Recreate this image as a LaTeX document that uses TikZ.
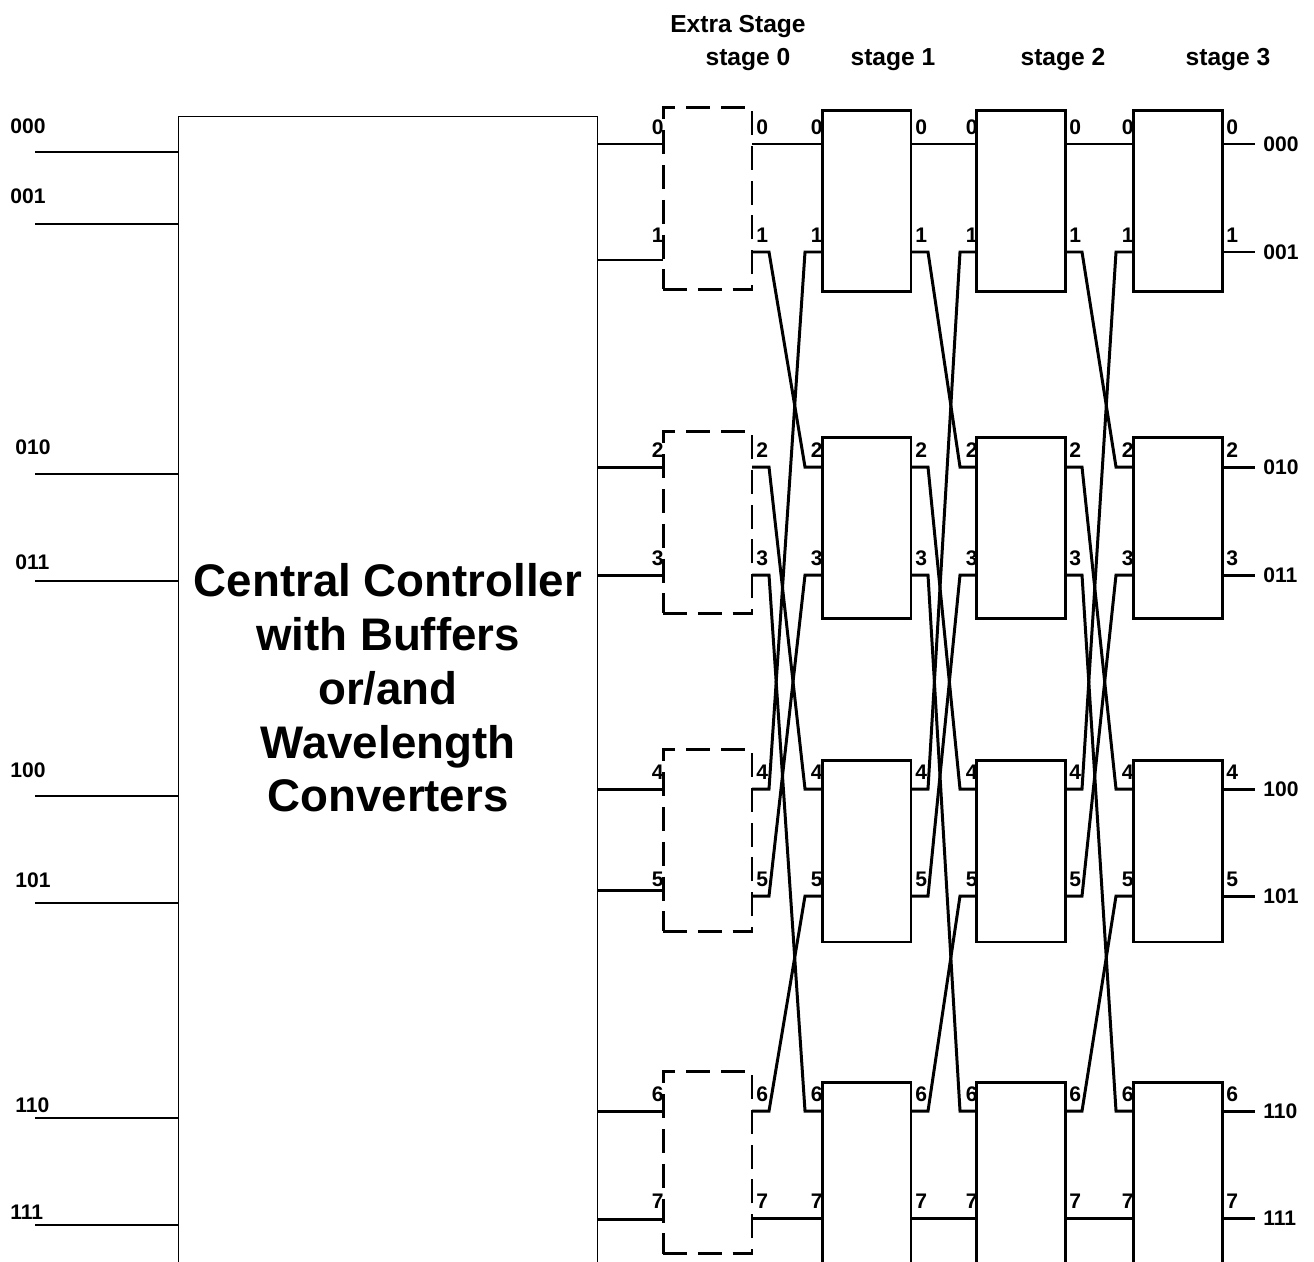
\documentclass[tikz,border=0pt]{standalone}
\usepackage{fontspec}
\setmainfont{Liberation Sans}
\usetikzlibrary{calc, positioning}

\def\portys{{144,252,467,575,789,896,1111,1218}}

\begin{document}
\begin{tikzpicture}[x=0.02cm, y=-0.02cm,
  wire/.style={line width=1.7pt},
  thinwire/.style={line width=0.7pt},
  swbox/.style={draw, line width=1.7pt, minimum width=1.78cm, minimum height=3.64cm, inner sep=0pt},
  xbox/.style={swbox, dash pattern=on 13.6pt off 6.2pt},
  portlbl/.style={font=\bfseries\fontsize{12}{12}\selectfont, inner sep=0pt},
  addr/.style={font=\bfseries\fontsize{12}{12}\selectfont, inner sep=0pt},
  stagelbl/.style={font=\bfseries\fontsize{14}{14}\selectfont, inner sep=0pt}]
  \useasboundingbox (0,0) rectangle (1314,1261);
  \clip (0,0) rectangle (1314,1261);

  % controller
  \node[draw, line width=0.8pt, minimum width=8.38cm, minimum height=23.4cm, anchor=north west, inner sep=0pt] (ctrl) at (178,116) {};
  \node[align=center, font=\bfseries\fontsize{26}{30.6}\selectfont] (ctrltxt) at (388,688)
    {Central Controller\\with Buffers\\or/and\\Wavelength\\Converters};

  % inputs on the left
  \foreach \i/\lbl/\lx/\ly/\wy in {0/000/10/133/152, 1/001/10/203/224, 2/010/15/454/474, 3/011/15/569/581,
                                 4/100/10/777/796, 5/101/15/887/903, 6/110/15/1112/1118, 7/111/10/1219/1225} {
    \node[addr, anchor=base west] (al-\i) at (\lx,\ly) {\lbl};
    \coordinate (a-\i) at (35,\wy);
    \draw[thinwire] (a-\i) -- (a-\i -| ctrl.west);
  }

  % port coordinates of every column
  \foreach \col/\xl/\xr in {0/663/752, 1/822/911, 2/977/1065, 3/1133/1222} {
    \foreach \prt in {0,...,7} {
      \pgfmathsetmacro\yy{\portys[\prt]}
      \coordinate (in-\col-\prt) at (\xl,\yy);
      \coordinate (out-\col-\prt) at (\xr,\yy);
      \node[portlbl, anchor=south east] (lin-\col-\prt) at ($(in-\col-\prt)+(1,-9)$) {\prt};
      \node[portlbl, anchor=south west] (lout-\col-\prt) at ($(out-\col-\prt)+(4,-9)$) {\prt};
    }
  }

  % extra stage (dashed) and switches
  \foreach \g/\top in {0/108, 1/432, 2/750, 3/1072}
    \node[xbox] (ex-\g) at (707.5,\top+90.5) {};
  \foreach \col/\xl/\xr in {1/822/911, 2/977/1065, 3/1133/1222}
    \foreach \g/\top in {0/110, 1/437, 2/760, 3/1082}
      \node[swbox] (sw-\col-\g) at ({(\xl+\xr)/2},\top+91) {};

  % controller to extra stage
  \foreach \prt/\wy in {0/144, 1/260, 2/467, 3/575, 4/789, 5/890, 6/1111, 7/1219} {
    \coordinate (c-\prt) at (597,\wy);
    \coordinate (d-\prt) at (663,\wy);
    \draw[wire] (c-\prt) -- (d-\prt);
  }

  % perfect shuffle links
  \foreach \col [evaluate=\col as \nxt using int(\col+1)] in {0,1,2}
    \foreach \prt in {0,...,7} {
      \pgfmathtruncatemacro\dst{\prt==7 ? 7 : mod(2*\prt,7)}
      \draw[wire] (out-\col-\prt) -- ++(17,0) -- ($(in-\nxt-\dst)+(-17,0)$) -- (in-\nxt-\dst);
    }

  % outputs
  \foreach \prt/\lbl in {0/000, 1/001, 2/010, 3/011, 4/100, 5/101, 6/110, 7/111} {
    \coordinate (o-\prt) at (1255,\portys[\prt]);
    \draw[wire] (out-3-\prt) -- (o-\prt);
    \node[addr, anchor=west] (ol-\prt) at ($(o-\prt)+(8,0)$) {\lbl};
  }

  % stage titles
  \node[stagelbl] (extra) at (738,27) {Extra Stage};
  \node[stagelbl] (st0) at (748,60) {stage 0};
  \node[stagelbl] (st1) at (893,60) {stage 1};
  \node[stagelbl] (st2) at (1063,60) {stage 2};
  \node[stagelbl] (st3) at (1228,60) {stage 3};
\end{tikzpicture}
\end{document}
